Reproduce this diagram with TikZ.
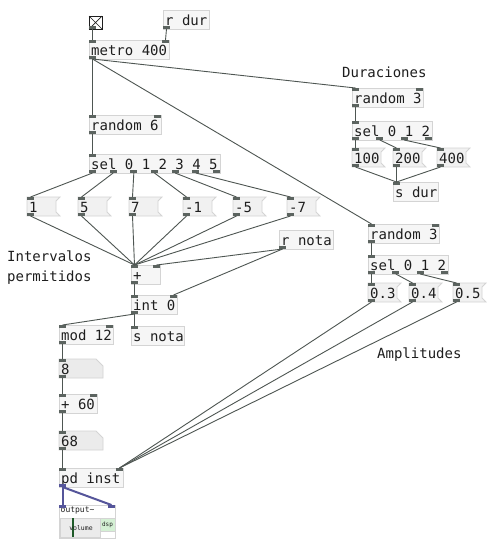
\documentclass[tikz,border=0pt]{standalone}
\usepackage{fontspec}
\newfontfamily\pdmono{DejaVu Sans Mono}
\usetikzlibrary{calc}
\definecolor{pdink}{HTML}{1E1E1E}
\definecolor{pdedge}{HTML}{D4D4D4}
\definecolor{pdfill}{HTML}{F6F6F6}
\definecolor{pdmsgfill}{HTML}{F1F1F1}
\definecolor{pdatomfill}{HTML}{EBEBEB}
\definecolor{pdwire}{HTML}{4E5652}
\definecolor{pdport}{HTML}{5C6460}
\definecolor{pdsig}{HTML}{55559A}
\definecolor{pdgreen}{HTML}{1E5A28}
\definecolor{pddsp}{HTML}{D4F0D4}
\tikzset{
  pdbox/.style={anchor=north west, inner sep=0pt, outer sep=0pt,
    line width=0.8pt, minimum height=19},
  pdobj/.style={pdbox, draw=pdedge, fill=pdfill},
  pdmsg/.style={draw=pdedge, fill=pdmsgfill, line width=0.8pt},
  pdatom/.style={draw=pdedge, fill=pdatomfill, line width=0.8pt},
  pdtext/.style={anchor=west, inner sep=2pt, text height=13, text depth=1,
    font=\pdmono\fontsize{14}{20}\selectfont, text=pdink},
  pdnote/.style={anchor=west, inner sep=2pt, align=left,
    font=\pdmono\fontsize{14}{20}\selectfont, text=pdink},
  pdtiny/.style={inner sep=0.5pt, font=\pdmono\fontsize{6.5}{7}\selectfont,
    text=pdink},
  pdport/.style={fill=pdport},
  pdwire/.style={draw=pdwire, line width=0.9pt},
  pdsigwire/.style={draw=pdsig, line width=2pt},
}

\begin{document}
\begin{tikzpicture}[x=1pt, y=-1pt]
\useasboundingbox[fill=white] (0,0) rectangle (500,550);

% Object boxes.
\foreach \name/\x/\y/\w/\txt in {%
    rdur/163/10/46/{r dur},
    metro/89/40/80/{metro 400},
    random6/89/115/72/{random 6},
    sel6/89/154/131/{sel 0 1 2 3 4 5},
    rnota/279/230/54/{r nota},
    plus/131/265/29/{+},
    int/131/295/46/{int 0},
    mod/59/325/54/{mod 12},
    snota/131/326/53/{s nota},
    add60/59/394/38/{+ 60},
    inst/59/468/64/{pd inst},
    rnda/352/88/71/{random 3},
    sela/352/121/80/{sel 0 1 2},
    sdur/393/182/45/{s dur},
    rndb/368/224/71/{random 3},
    selb/368/255/80/{sel 0 1 2}} {
  \node[pdobj, minimum width=\w] (\name) at (\x,\y) {};
  \node[pdtext] at (\name.west) {\txt};
}

% Message boxes.
\foreach \name/\x/\y/\txt in {%
    m1/27/197/1, m5/78/197/5, m7/129/197/7,
    mn1/183/197/-1, mn5/233/197/-5, mn7/287/197/-7,
    m100/352/148/100, m200/393/148/200, m400/437/148/400,
    m03/368/283/0.3, m04/409/283/0.4, m05/453/283/0.5} {
  \node[pdbox, minimum width=29] (\name) at (\x,\y) {};
  \filldraw[pdmsg] (\name.north west) -- ($(\name.north east)+(4,0)$)
    -- ($(\name.north east)+(0,4)$) -- ($(\name.south east)+(0,-4)$)
    -- ($(\name.south east)+(4,0)$) -- (\name.south west) -- cycle;
  \node[pdtext] at (\name.west) {\txt};
}

% Number boxes.
\foreach \name/\y/\txt in {num8/359/8, num68/431/68} {
  \node[pdbox, minimum width=44] (\name) at (59,\y) {};
  \filldraw[pdatom] (\name.north west) -- ($(\name.north east)+(-7,0)$)
    -- ($(\name.north east)+(0,7)$) -- (\name.south east)
    -- (\name.south west) -- cycle;
  \node[pdtext] at (\name.west) {\txt};
}

% Toggle.
\node[pdbox, draw=pdink, fill=white, minimum width=13, minimum height=13]
  (toggle) at (89,16) {};
\draw[pdink, line width=0.7pt] (toggle.north west) -- (toggle.south east)
  (toggle.north east) -- (toggle.south west);

% output~ abstraction.
\node[pdobj, fill=white, minimum width=56, minimum height=33] (out) at (59,505) {};
\node[pdtiny, anchor=north west, font=\pdmono\fontsize{8}{9}\selectfont]
  at ($(out.north west)+(1,1.5)$) {output\textasciitilde};
\draw[draw=pdedge, fill=pdatomfill] (60,518) rectangle (100,537);
\draw[pdgreen, line width=1.6pt] (73,518) -- (73,537);
\node[pdtiny] at (81,528) {volume};
\draw[draw=pdedge, fill=pddsp] (100,518) rectangle (115,531);
\node[pdtiny, font=\pdmono\fontsize{6}{7}\selectfont] at (107.5,524.5) {dsp};

% Inlets and outlets.
\foreach \obj/\nin/\nout in {%
    toggle/0/1, rdur/0/1, metro/2/1, random6/2/1, sel6/1/7,
    m1/1/1, m5/1/1, m7/1/1, mn1/1/1, mn5/1/1, mn7/1/1,
    rnota/0/1, plus/2/1, int/2/1, mod/2/1, snota/1/0,
    num8/1/1, add60/2/1, num68/1/1, inst/2/1, out/2/0,
    rnda/2/1, sela/1/4, m100/1/1, m200/1/1, m400/1/1, sdur/1/0,
    rndb/2/1, selb/1/4, m03/1/1, m04/1/1, m05/1/1} {
  \ifnum\nin>0
    \pgfmathtruncatemacro\kmax{\nin-1}
    \foreach \k in {0,...,\kmax} {
      \pgfmathsetmacro\pos{\k/max(\nin-1,1)}
      \coordinate (\obj-i\k) at ($($(\obj.north west)+(3.5,0)$)!\pos!($(\obj.north east)+(-3.5,0)$)$);
      \fill[pdport] ($(\obj-i\k)+(-3.5,0)$) rectangle ++(7,3);
    }
  \fi
  \ifnum\nout>0
    \pgfmathtruncatemacro\kmax{\nout-1}
    \foreach \k in {0,...,\kmax} {
      \pgfmathsetmacro\pos{\k/max(\nout-1,1)}
      \coordinate (\obj-o\k) at ($($(\obj.south west)+(3.5,0)$)!\pos!($(\obj.south east)+(-3.5,0)$)$);
      \fill[pdport] ($(\obj-o\k)+(-3.5,0)$) rectangle ++(7,-3);
    }
  \fi
}
\fill[pdsig] ($(inst-o0)+(-3.5,0)$) rectangle ++(7,-3);
\fill[pdsig] ($(out-i0)+(-3.5,0)$) rectangle ++(7,3);
\fill[pdsig] ($(out-i1)+(-3.5,0)$) rectangle ++(7,3);

% Control connections.
\foreach \src/\dst in {%
    toggle-o0/metro-i0, rdur-o0/metro-i1,
    metro-o0/random6-i0, metro-o0/rnda-i0, metro-o0/rndb-i0,
    random6-o0/sel6-i0,
    sel6-o0/m1-i0, sel6-o1/m5-i0, sel6-o2/m7-i0,
    sel6-o3/mn1-i0, sel6-o4/mn5-i0, sel6-o5/mn7-i0,
    m1-o0/plus-i0, m5-o0/plus-i0, m7-o0/plus-i0,
    mn1-o0/plus-i0, mn5-o0/plus-i0, mn7-o0/plus-i0,
    rnota-o0/plus-i1, rnota-o0/int-i1,
    plus-o0/int-i0, int-o0/mod-i0, int-o0/snota-i0,
    mod-o0/num8-i0, num8-o0/add60-i0, add60-o0/num68-i0,
    num68-o0/inst-i0,
    rnda-o0/sela-i0,
    sela-o0/m100-i0, sela-o1/m200-i0, sela-o2/m400-i0,
    m100-o0/sdur-i0, m200-o0/sdur-i0, m400-o0/sdur-i0,
    rndb-o0/selb-i0,
    selb-o0/m03-i0, selb-o1/m04-i0, selb-o2/m05-i0,
    m03-o0/inst-i1, m04-o0/inst-i1, m05-o0/inst-i1} {
  \draw[pdwire] (\src) -- (\dst);
}

% Signal connections.
\draw[pdsigwire] (inst-o0) -- (out-i0);
\draw[pdsigwire] (inst-o0) -- (out-i1);

% Comments.
\node[pdtext] (durlabel) at (340,71) {Duraciones};
\node[pdtext] (amplabel) at (375,352) {Amplitudes};
\node[pdnote] (intlabel) at (5,268) {Intervalos\\permitidos};

\end{tikzpicture}
\end{document}
